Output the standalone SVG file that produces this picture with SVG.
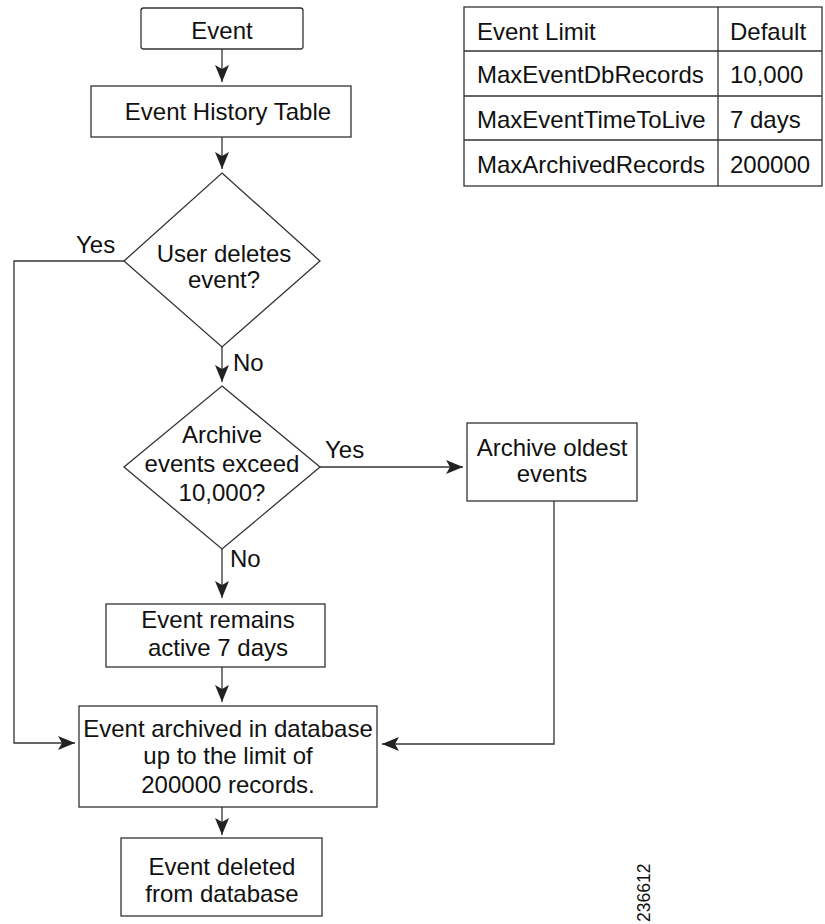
<svg xmlns="http://www.w3.org/2000/svg" width="825" height="924" viewBox="0 0 825 924">
<style>
.box{fill:#fff;stroke:#333;stroke-width:1.3}
.ln{fill:none;stroke:#333;stroke-width:1.3}
text{font-family:"Liberation Sans",Arial,sans-serif;font-size:24px;fill:#111}
.c{text-anchor:middle}
</style>
<defs>
<marker id="ah" markerWidth="17" markerHeight="14" viewBox="0 0 17 14" refX="17" refY="7" orient="auto" markerUnits="userSpaceOnUse">
<path d="M0,0 L17,7 L0,14 L4,7 Z" fill="#222"/>
</marker>
</defs>
<g id="connectors">
<line class="ln" x1="222" y1="49" x2="222" y2="82" marker-end="url(#ah)"/>
<line class="ln" x1="222" y1="137" x2="222" y2="169" marker-end="url(#ah)"/>
<line class="ln" x1="222" y1="347" x2="222" y2="382" marker-end="url(#ah)"/>
<line class="ln" x1="222" y1="549" x2="222" y2="598" marker-end="url(#ah)"/>
<line class="ln" x1="222" y1="667" x2="222" y2="702" marker-end="url(#ah)"/>
<line class="ln" x1="222" y1="807" x2="222" y2="835" marker-end="url(#ah)"/>
<polyline class="ln" points="124,261 14,261 14,743 75,743" marker-end="url(#ah)"/>
<line class="ln" x1="320" y1="467" x2="463" y2="467" marker-end="url(#ah)"/>
<polyline class="ln" points="554,501 554,744 382,744" marker-end="url(#ah)"/>
<text x="76" y="253">Yes</text>
<text x="233" y="371">No</text>
<text x="325" y="458">Yes</text>
<text x="230" y="567">No</text>
</g>
<g id="event">
<rect class="box" x="141" y="8" width="162" height="41" rx="2.5"/>
<text class="c" x="222" y="39">Event</text>
</g>
<g id="history">
<rect class="box" x="91" y="86" width="260" height="51"/>
<text class="c" x="228" y="120">Event History Table</text>
</g>
<g id="userDeletes">
<polygon class="box" points="222,173 320,261 222,347 124,261"/>
<text class="c" x="224" y="262">User deletes</text>
<text class="c" x="224" y="288">event?</text>
</g>
<g id="archiveExceed">
<polygon class="box" points="222,386 320,467 222,549 124,467"/>
<text class="c" x="222" y="443">Archive</text>
<text class="c" x="222" y="472">events exceed</text>
<text class="c" x="222" y="501">10,000?</text>
</g>
<g id="archiveOldest">
<rect class="box" x="467" y="423" width="170" height="78"/>
<text class="c" x="552" y="456">Archive oldest</text>
<text class="c" x="552" y="482">events</text>
</g>
<g id="remains">
<rect class="box" x="106" y="604" width="219" height="63"/>
<text class="c" x="218" y="628">Event remains</text>
<text class="c" x="218" y="656">active 7 days</text>
</g>
<g id="archived">
<rect class="box" x="79" y="706" width="298" height="101"/>
<text class="c" x="228" y="737">Event archived in database</text>
<text class="c" x="228" y="764">up to the limit of</text>
<text class="c" x="228" y="793">200000 records.</text>
</g>
<g id="deleted">
<rect class="box" x="121" y="838" width="201" height="78"/>
<text class="c" x="222" y="875">Event deleted</text>
<text class="c" x="222" y="902">from database</text>
</g>
<g id="limitsTable">
<rect class="box" x="464" y="7" width="358" height="179"/>
<line class="ln" x1="718" y1="7" x2="718" y2="186"/>
<line class="ln" x1="464" y1="51" x2="822" y2="51"/>
<line class="ln" x1="464" y1="96" x2="822" y2="96"/>
<line class="ln" x1="464" y1="140" x2="822" y2="140"/>
<text x="477" y="40">Event Limit</text>
<text x="730" y="40">Default</text>
<text x="477" y="83">MaxEventDbRecords</text>
<text x="730" y="83">10,000</text>
<text x="477" y="128">MaxEventTimeToLive</text>
<text x="730" y="128">7 days</text>
<text x="477" y="173">MaxArchivedRecords</text>
<text x="730" y="173">200000</text>
</g>
<text x="650" y="922" transform="rotate(-90 650 922)" style="font-size:17.5px">236612</text>
</svg>
